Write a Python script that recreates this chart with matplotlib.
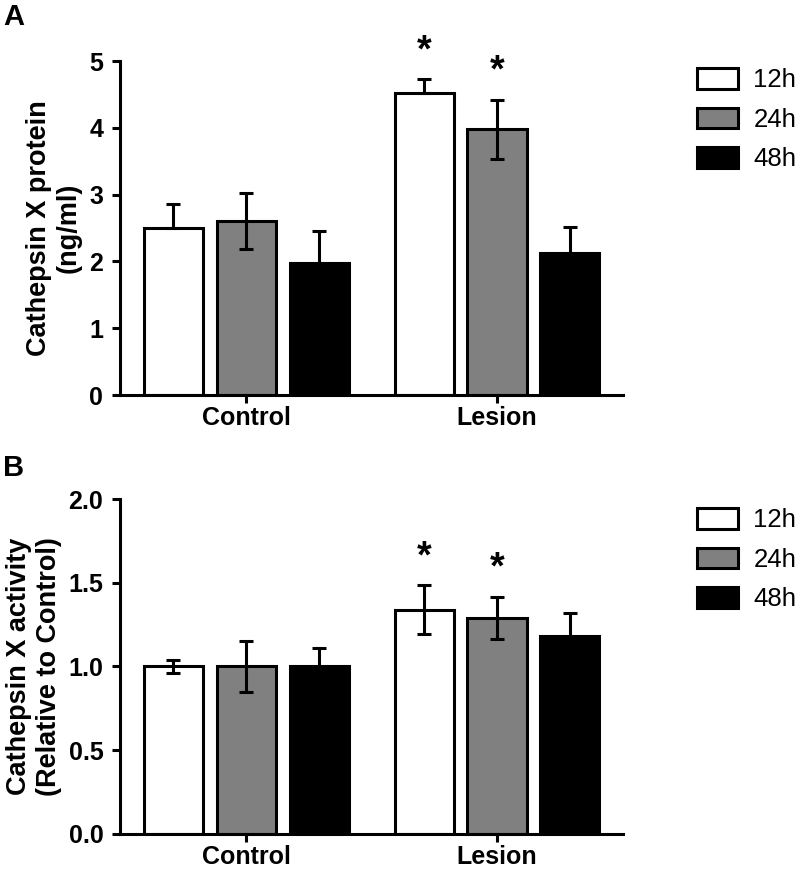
import numpy as np
import matplotlib
matplotlib.use("Agg")
import matplotlib.pyplot as plt
from matplotlib.patches import Patch

plt.rcParams['font.family'] = ['Liberation Sans', 'DejaVu Sans']

# --- data ---
groups = ["Control", "Lesion"]
times = ["12h", "24h", "48h"]
colors = ["white", "#808080", "black"]

# panel A: cathepsin X protein (ng/ml), rows = 12h/24h/48h, cols = Control/Lesion
protein_means = [[2.50, 4.52], [2.60, 3.98], [1.97, 2.13]]
protein_errs = [[0.36, 0.21], [0.42, 0.44], [0.49, 0.39]]
protein_sig = [[False, True], [False, True], [False, False]]

# panel B: cathepsin X activity relative to control
activity_means = [[1.00, 1.34], [1.00, 1.29], [1.00, 1.18]]
activity_errs = [[0.04, 0.145], [0.155, 0.125], [0.11, 0.14]]
activity_sig = [[False, True], [False, True], [False, False]]

LW = 2.2
group_pos = np.array([0.0, 3.44])
offsets = [-1.0, 0.0, 1.0]
bar_w = 0.81


def draw_panel(ax, means, errs, sig, upper_only_first, ylim, yticks, yfmt, ylabel, label_x):
    for i, t in enumerate(times):
        x = group_pos + offsets[i]
        m = np.array(means[i])
        e = np.array(errs[i])
        ax.bar(x, m, width=bar_w, color=colors[i], edgecolor="black",
               linewidth=LW, zorder=2)
        lower = np.zeros_like(e) if (upper_only_first and i == 0) else e
        ax.errorbar(x, m, yerr=[lower, e], fmt="none", ecolor="black",
                    elinewidth=LW, capsize=5, capthick=LW, zorder=3)
        for j in range(len(groups)):
            if sig[i][j]:
                ax.annotate("*", (x[j], m[j] + e[j]), xytext=(0, 13),
                            textcoords="offset points", ha="center",
                            va="baseline", fontsize=27, fontweight="bold")

    ax.set_xlim(-1.73, 5.17)
    ax.set_ylim(*ylim)
    ax.set_yticks(yticks)
    ax.set_yticklabels([yfmt.format(v) for v in yticks])
    ax.set_xticks(group_pos)
    ax.set_xticklabels(groups)
    for s in ["top", "right"]:
        ax.spines[s].set_visible(False)
    for s in ["left", "bottom"]:
        ax.spines[s].set_linewidth(LW)
    ax.tick_params(axis="both", width=LW, length=6, labelsize=18)
    ax.tick_params(axis="y", pad=6)
    ax.tick_params(axis="x", pad=2)
    for lab in ax.get_xticklabels() + ax.get_yticklabels():
        lab.set_fontweight("bold")
    ax.set_ylabel(ylabel, fontsize=19.5, fontweight="bold", linespacing=1.2)
    ax.yaxis.set_label_coords(label_x, 0.5)


fig = plt.figure(figsize=(8.0, 8.73), dpi=100)
axA = fig.add_axes([0.150, 0.5475, 0.629, 0.3825])
axB = fig.add_axes([0.150, 0.0447, 0.629, 0.3837])

draw_panel(axA, protein_means, protein_errs, protein_sig, True,
           (0, 5), [0, 1, 2, 3, 4, 5], "{:.0f}",
           "Cathepsin X protein\n(ng/ml)", -0.076)
draw_panel(axB, activity_means, activity_errs, activity_sig, False,
           (0, 2.0), [0.0, 0.5, 1.0, 1.5, 2.0], "{:.1f}",
           "Cathepsin X activity\n(Relative to Control)", -0.115)

handles = [Patch(facecolor=c, edgecolor="black", linewidth=LW) for c in colors]
for top in [0.922, 0.418]:
    fig.legend(handles, times, loc="upper left", bbox_to_anchor=(0.871, top),
               frameon=False, fontsize=18.5, handlelength=1.6, handleheight=0.85,
               handletextpad=0.6, labelspacing=0.6, borderpad=0, borderaxespad=0)

fig.text(0.004, 0.997, "A", fontsize=21, fontweight="bold", va="top", ha="left")
fig.text(0.004, 0.480, "B", fontsize=21, fontweight="bold", va="top", ha="left")

fig.savefig("out.png", dpi=100)
